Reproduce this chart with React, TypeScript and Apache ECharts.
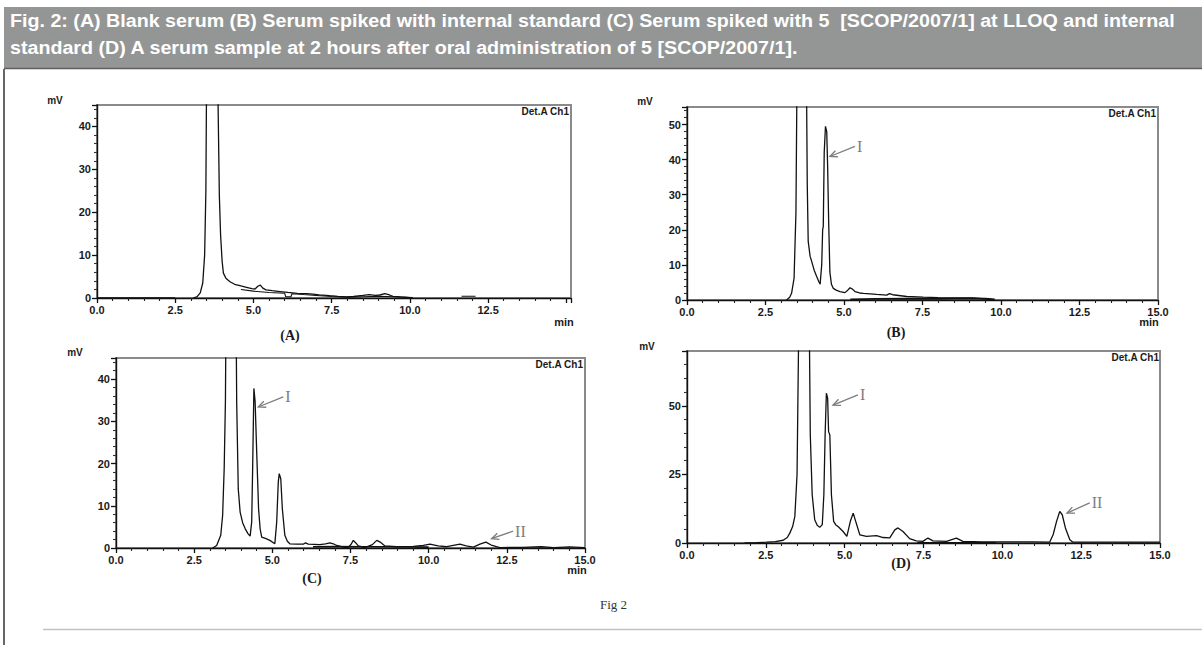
import React, { useEffect, useRef } from "react";
import * as echarts from "echarts";

const TITLE_LINE_1 =
  "Fig. 2: (A) Blank serum (B) Serum spiked with internal standard (C) Serum spiked with 5  [SCOP/2007/1] at LLOQ and internal";
const TITLE_LINE_2 =
  "standard (D) A serum sample at 2 hours after oral administration of 5 [SCOP/2007/1].";

const panelNames = ["(A)", "(B)", "(C)", "(D)"];
const detectorLabel = "Det.A Ch1";
const xMaxes = [15.15, 15, 15, 15];
const yMaxes = [45, 55, 45, 70];
const yIntervals = [10, 10, 10, 25];
const xInterval = 2.5;

// (A) Blank serum
const leadA = [[0, 0], [2.5, 0]];
const traceA = [
  [3.08, 0], [3.2, 0.3], [3.3, 1.2], [3.38, 3.5], [3.44, 10], [3.48, 25], [3.51, 60], [3.58, 180],
  [3.66, 260], [3.74, 200], [3.82, 90], [3.87, 45], [3.91, 24], [3.95, 14.7], [4.0, 8.5], [4.04, 5.8],
  [4.12, 4.6], [4.25, 3.8], [4.4, 3.2], [4.6, 2.8], [4.78, 2.5], [4.95, 2.2], [5.05, 2.1], [5.15, 2.8],
  [5.22, 3.0], [5.3, 2.3], [5.4, 1.9], [5.6, 1.7], [5.85, 1.5], [6.1, 1.3], [6.4, 1.1], [6.7, 1.0],
  [6.9, 0.9], [7.1, 0.75], [7.44, 0.55], [7.7, 0.4], [7.98, 0.25], [8.2, 0.35], [8.5, 0.6], [8.7, 0.8],
  [8.9, 0.6], [9.04, 0.7], [9.2, 1.0], [9.35, 0.7], [9.46, 0.4], [9.7, 0.25], [9.9, 0.15], [10.0, 0.1],
];
const baseA = [
  [4.6, 2.0], [5.0, 1.6], [5.5, 1.3], [6.0, 1.1], [6.03, 0.3], [6.2, 0.3], [6.23, 1.0], [6.6, 0.8],
  [7.0, 0.6], [7.5, 0.35], [8.0, 0.2], [8.5, 0.3], [9.0, 0.4], [9.5, 0.3], [10.1, 0.1],
];
const tailA = [[11.65, 0.4], [12.1, 0.4]];

// (B) Serum spiked with internal standard
const traceB = [
  [3.17, 0], [3.27, 0.8], [3.33, 1.9], [3.41, 6.2], [3.44, 15.7], [3.47, 25], [3.5, 60], [3.58, 200],
  [3.66, 280], [3.74, 200], [3.79, 80], [3.83, 32.9], [3.86, 16.7], [3.92, 12.5], [3.97, 11], [4.05, 8.5],
  [4.13, 6.7], [4.2, 5.2], [4.24, 4.5], [4.29, 10], [4.32, 20], [4.34, 21], [4.37, 42], [4.41, 49.5],
  [4.45, 48], [4.48, 37.7], [4.51, 23], [4.55, 8], [4.6, 4.5], [4.66, 3.3], [4.75, 2.8], [4.87, 2.4],
  [5.03, 2.1], [5.12, 2.8], [5.19, 3.5], [5.27, 3.1], [5.35, 2.4], [5.5, 2.0], [5.62, 1.9], [6.04, 1.6],
  [6.36, 1.4], [6.45, 1.8], [6.55, 1.5], [7.0, 1.0], [7.52, 0.8], [8.0, 0.7], [8.59, 0.6], [9.1, 0.6],
  [9.4, 0.4], [9.7, 0.2],
];
const baseB = [[5.2, 0.2], [6.0, 0.3], [7.0, 0.4], [8.0, 0.35], [9.0, 0.45], [9.5, 0.35], [9.8, 0.15]];

// (C) Serum spiked at LLOQ and internal standard
const traceC = [
  [3.09, 0], [3.22, 0.6], [3.35, 3], [3.41, 7.7], [3.46, 18.8], [3.5, 35], [3.55, 90], [3.62, 200],
  [3.7, 250], [3.78, 150], [3.84, 55], [3.86, 34.6], [3.91, 14], [3.97, 8.5], [4.05, 6], [4.13, 4.6],
  [4.22, 3.4], [4.29, 2.8], [4.34, 6.2], [4.37, 18.8], [4.41, 37.8], [4.45, 34.6], [4.5, 22.7], [4.56, 9.3],
  [4.61, 4.5], [4.66, 2.6], [4.8, 2.2], [4.92, 1.8], [5.08, 1.0], [5.14, 6.2], [5.19, 15.6], [5.22, 17.6],
  [5.27, 16.4], [5.32, 9.3], [5.4, 3], [5.48, 1.6], [5.56, 1.0], [5.8, 0.9], [5.99, 0.9], [6.06, 1.2],
  [6.15, 0.9], [6.52, 0.8], [6.7, 1.0], [6.84, 1.2], [6.95, 1.0], [7.06, 0.6], [7.27, 0.2], [7.42, 0.1],
  [7.52, 0.9], [7.59, 1.8], [7.67, 1.2], [7.75, 0.5], [7.96, 0.1], [8.2, 0.8], [8.34, 1.8], [8.45, 1.4],
  [8.6, 0.5], [8.98, 0.3], [9.51, 0.4], [9.83, 0.6], [10.04, 0.9], [10.3, 0.5], [10.58, 0.3], [11.0, 0.9],
  [11.2, 0.5], [11.43, 0.2], [11.64, 0.9], [11.83, 1.4], [12.0, 0.7], [12.17, 0.3], [12.28, 0.1],
  [13.0, 0.15], [13.6, 0.3], [14.0, 0.1], [14.5, 0.25], [15, 0.1],
];
const baseC = [[6.3, 0.3], [7.0, 0.35], [8.0, 0.3], [9.0, 0.3], [10.0, 0.2]];

// (D) Serum sample 2 h after oral administration
const traceD = [
  [1.83, 0], [2.2, 0.1], [2.52, 0.3], [2.8, 0.5], [3.05, 1], [3.18, 2], [3.26, 3.6], [3.35, 6],
  [3.42, 9.7], [3.49, 25], [3.54, 75], [3.62, 200], [3.7, 260], [3.8, 180], [3.87, 90], [3.91, 39.4],
  [3.97, 17.6], [4.05, 8.5], [4.13, 6.5], [4.21, 5.7], [4.29, 6.7], [4.34, 17.6], [4.38, 39.4], [4.42, 54.6],
  [4.46, 52.8], [4.49, 40.6], [4.53, 39.4], [4.58, 17.6], [4.65, 7.9], [4.72, 6.6], [4.79, 6], [4.95, 4.2],
  [5.07, 2.4], [5.18, 7.9], [5.27, 10.9], [5.35, 7.9], [5.48, 3], [5.69, 2.4], [6.01, 2.7], [6.22, 2.0],
  [6.43, 1.9], [6.59, 4.8], [6.69, 5.5], [6.85, 4.2], [7.06, 1.6], [7.27, 0.8], [7.48, 0.6], [7.64, 1.8],
  [7.8, 0.8], [8.23, 0.6], [8.54, 1.8], [8.75, 0.6], [9.39, 0.4], [9.92, 0.4], [10.97, 0.4], [11.5, 0.3],
  [11.61, 3], [11.72, 7.9], [11.82, 11.5], [11.9, 10.3], [12.0, 5.5], [12.14, 1.2], [12.24, 0.3],
  [13, 0.3], [14, 0.3], [15, 0.3],
];
const baseD = [[7.3, 0.1], [9.8, 0.1]];

// arrows: [tailX, tailY, tipX, tipY]
const arrowsB = [[5.35, 43.8, 4.55, 40.9]];
const arrowLabelsB = ["I"];
const arrowsC = [[5.35, 35.8, 4.55, 33.4], [12.7, 4.0, 12.01, 2.2]];
const arrowLabelsC = ["I", "II"];
const arrowsD = [[5.42, 54.0, 4.63, 50.3], [12.77, 14.6, 12.05, 10.9]];
const arrowLabelsD = ["I", "II"];

const grids = [
  { left: 97, top: 105, width: 474, height: 193 },
  { left: 687, top: 107, width: 471, height: 193 },
  { left: 116, top: 358, width: 469, height: 190 },
  { left: 687, top: 351, width: 473, height: 192 },
];

const SANS = '"Liberation Sans", Arial, sans-serif';
const SERIF = '"Liberation Serif", "Times New Roman", serif';

function lineSeries(idx: number, data: number[][], width = 1.3) {
  return {
    type: "line",
    xAxisIndex: idx,
    yAxisIndex: idx,
    data,
    showSymbol: false,
    symbol: "none",
    clip: true,
    silent: true,
    lineStyle: { color: "#111", width },
    z: 3,
  };
}

function arrowSeries(idx: number, arrows: number[][], labels: string[]) {
  return {
    type: "custom",
    coordinateSystem: "cartesian2d",
    xAxisIndex: idx,
    yAxisIndex: idx,
    data: arrows,
    silent: true,
    z: 4,
    renderItem: (params: any, api: any) => {
      const t = api.coord([api.value(0), api.value(1)]);
      const h = api.coord([api.value(2), api.value(3)]);
      const ang = Math.atan2(h[1] - t[1], h[0] - t[0]);
      const L = 8;
      const w = 0.42;
      const p1 = [h[0] - L * Math.cos(ang - w), h[1] - L * Math.sin(ang - w)];
      const p2 = [h[0] - L * Math.cos(ang + w), h[1] - L * Math.sin(ang + w)];
      return {
        type: "group",
        children: [
          {
            type: "line",
            shape: { x1: t[0], y1: t[1], x2: h[0], y2: h[1] },
            style: { stroke: "#7d7d7d", lineWidth: 1.3 },
          },
          {
            type: "polyline",
            shape: { points: [p1, h, p2] },
            style: { stroke: "#7d7d7d", lineWidth: 1.3, fill: null },
          },
          {
            type: "text",
            x: t[0] + 2,
            y: t[1],
            style: {
              text: labels[params.dataIndex],
              fill: "#7d7d7d",
              font: `16px ${SERIF}`,
              align: "left",
              verticalAlign: "middle",
            },
          },
        ],
      };
    },
  };
}

function txt(x: number, y: number, text: string, font: string, align = "center", fill = "#1a1a1a") {
  return {
    type: "text",
    x,
    y,
    z: 10,
    style: { text, font, fill, align, verticalAlign: "middle", textAlign: align, textVerticalAlign: "middle" },
  };
}

export default function App() {
  const ref = useRef<HTMLDivElement>(null);

  useEffect(() => {
    if (!ref.current) return;
    const chart = echarts.init(ref.current, undefined, { renderer: "svg" });

    const titleFont = `bold 18px ${SANS}`;
    const ctx = document.createElement("canvas").getContext("2d");
    let scale = 0.9;
    if (ctx) {
      ctx.font = titleFont;
      const w = ctx.measureText(TITLE_LINE_1).width;
      if (w > 0) scale = 1165 / w;
    }

    const xAxes = grids.map((_, i) => ({
      type: "value",
      gridIndex: i,
      min: 0,
      max: xMaxes[i],
      interval: xInterval,
      axisLine: { show: true, onZero: false, lineStyle: { color: "#111", width: 1.4 } },
      axisTick: { show: true, length: 5, lineStyle: { color: "#111", width: 1.3 } },
      minorTick: { show: true, splitNumber: 5, length: 3, lineStyle: { color: "#222", width: 1.1 } },
      splitLine: { show: false },
      axisLabel: {
        margin: 6,
        fontFamily: SANS,
        fontWeight: "bold",
        fontSize: 11,
        color: "#1a1a1a",
        formatter: (v: number) => {
          if (i === 0 && v > 12.6) return "";
          const k = v / xInterval;
          return Math.abs(k - Math.round(k)) < 1e-6 ? v.toFixed(1) : "";
        },
      },
    }));

    const yAxes = grids.map((_, i) => ({
      type: "value",
      gridIndex: i,
      min: 0,
      max: yMaxes[i],
      interval: yIntervals[i],
      axisLine: { show: true, onZero: false, lineStyle: { color: "#111", width: 1.4 } },
      axisTick: { show: true, length: 5, lineStyle: { color: "#111", width: 1.3 } },
      minorTick: { show: true, splitNumber: 5, length: 3, lineStyle: { color: "#333", width: 1.1 } },
      splitLine: { show: false },
      axisLabel: {
        margin: 6,
        fontFamily: SANS,
        fontWeight: "bold",
        fontSize: 11,
        color: "#1a1a1a",
        formatter: (v: number) => (v % yIntervals[i] === 0 ? String(v) : ""),
      },
    }));

    const series: any[] = [
      lineSeries(0, leadA),
      lineSeries(0, traceA),
      lineSeries(0, baseA, 1.1),
      lineSeries(0, tailA, 1.1),
      lineSeries(1, traceB),
      lineSeries(1, baseB, 1.8),
      lineSeries(2, traceC),
      lineSeries(2, baseC, 1.6),
      lineSeries(3, traceD),
      lineSeries(3, baseD, 1.3),
      arrowSeries(1, arrowsB, arrowLabelsB),
      arrowSeries(2, arrowsC, arrowLabelsC),
      arrowSeries(3, arrowsD, arrowLabelsD),
    ];

    const smallBold = `bold 10px ${SANS}`;
    const minFont = `bold 11px ${SANS}`;
    const panelFont = `bold 14px ${SERIF}`;

    const graphic: any[] = [
      { type: "rect", shape: { x: 4, y: 7, width: 1198, height: 61 }, style: { fill: "#949696" }, z: 1 },
      { type: "line", shape: { x1: 4, y1: 68.5, x2: 1202, y2: 68.5 }, style: { stroke: "#5e5e5e", lineWidth: 1.5 }, z: 2 },
      { type: "line", shape: { x1: 4, y1: 69, x2: 4, y2: 645 }, style: { stroke: "#666", lineWidth: 2 }, z: 2 },
      { type: "line", shape: { x1: 43, y1: 629.5, x2: 1202, y2: 629.5 }, style: { stroke: "#c2c2c2", lineWidth: 1.5 }, z: 2 },
      {
        type: "text", x: 10, y: 21, scaleX: scale, z: 3,
        style: { text: TITLE_LINE_1, font: titleFont, fill: "#ffffff", align: "left", verticalAlign: "middle", textAlign: "left", textVerticalAlign: "middle" },
      },
      {
        type: "text", x: 10, y: 48, scaleX: scale, z: 3,
        style: { text: TITLE_LINE_2, font: titleFont, fill: "#ffffff", align: "left", verticalAlign: "middle", textAlign: "left", textVerticalAlign: "middle" },
      },
      // mV labels
      txt(55, 100, "mV", smallBold),
      txt(645, 101, "mV", smallBold),
      txt(75, 352, "mV", smallBold),
      txt(647, 346, "mV", smallBold),
      // detector labels
      txt(569, 111, detectorLabel, smallBold, "right"),
      txt(1156, 113, detectorLabel, smallBold, "right"),
      txt(583, 364, detectorLabel, smallBold, "right"),
      txt(1159, 357, detectorLabel, smallBold, "right"),
      // min labels
      txt(564, 322, "min", minFont),
      txt(1149, 322, "min", minFont),
      txt(577, 570, "min", minFont),
      // panel labels
      txt(290, 335, panelNames[0], panelFont),
      txt(896, 332, panelNames[1], panelFont),
      txt(312, 578, panelNames[2], panelFont),
      txt(901, 563, panelNames[3], panelFont),
      txt(600, 604, "Fig 2", `13px ${SERIF}`, "left", "#333"),
    ];

    chart.setOption({
      animation: false,
      backgroundColor: "#ffffff",
      grid: grids.map((g) => ({
        ...g,
        show: true,
        borderColor: "#8a8a8a",
        borderWidth: 2,
        backgroundColor: "transparent",
        containLabel: false,
      })),
      xAxis: xAxes,
      yAxis: yAxes,
      series,
      graphic,
    });

    return () => {
      chart.dispose();
    };
  }, []);

  return (
    <div
      ref={ref}
      style={{ position: "absolute", left: 0, top: 0, width: 1202, height: 645, background: "#fff" }}
    />
  );
}
